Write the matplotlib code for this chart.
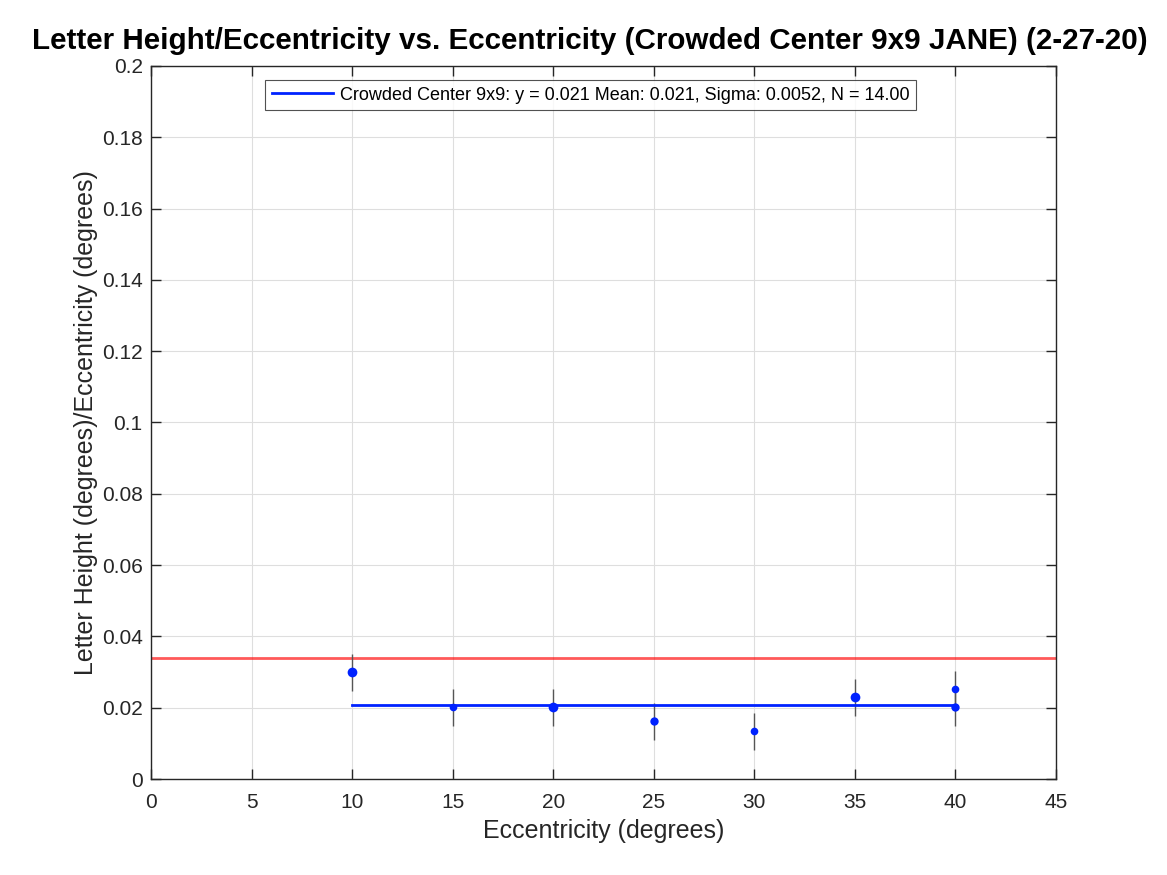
import numpy as np
import matplotlib
matplotlib.use("Agg")
import matplotlib.pyplot as plt

plt.rcParams["font.family"] = ["Liberation Sans", "DejaVu Sans"]

# data
ecc = [10, 15, 20, 25, 30, 35, 40, 40]
ratio = [0.0299, 0.0201, 0.0201, 0.0162, 0.0134, 0.0229, 0.0252, 0.0201]
marker_sizes = [7, 5.5, 7, 6, 5.5, 7, 5.5, 6]
sigma = 0.0052
mean_val = 0.0208
fit_x = [10, 40]
red_level = 0.0339
legend_label = "Crowded Center 9x9: y = 0.021 Mean: 0.021, Sigma: 0.0052, N = 14.00"
title = "Letter Height/Eccentricity vs. Eccentricity (Crowded Center 9x9 JANE) (2-27-20)"

AX_COL = "#262626"

fig = plt.figure(figsize=(11.67, 8.75), dpi=100)
ax = fig.add_axes([0.1294, 0.1097, 0.7755, 0.8149])

ax.axhline(red_level, color="red", alpha=0.65, lw=2, zorder=2)
ax.errorbar(ecc, ratio, yerr=sigma, fmt="none", ecolor="#555555", elinewidth=1, capsize=0, zorder=3)
for x, y, s in zip(ecc, ratio, marker_sizes):
    ax.plot(x, y, "o", color="#0022ff", ms=s, mec="none", zorder=4)
line, = ax.plot(fit_x, [mean_val, mean_val], color="#0022ff", lw=2, zorder=3, label=legend_label)

ax.set_xlim(0, 45)
ax.set_ylim(0, 0.2)
ax.set_xticks(np.arange(0, 46, 5))
ax.set_yticks(np.arange(0, 0.201, 0.02))
ax.set_yticklabels(["0", "0.02", "0.04", "0.06", "0.08", "0.1", "0.12", "0.14", "0.16", "0.18", "0.2"])
ax.grid(True, color="#dedede", lw=0.8)
ax.set_axisbelow(True)
ax.tick_params(direction="in", top=True, right=True, length=7, width=1, colors=AX_COL, labelsize=15)
ax.tick_params(axis="x", pad=10)
ax.tick_params(axis="y", pad=6)
for sp in ax.spines.values():
    sp.set_color(AX_COL)
    sp.set_linewidth(1)

ax.set_xlabel("Eccentricity (degrees)", fontsize=18, color=AX_COL, labelpad=5)
ax.set_ylabel("Letter Height (degrees)/Eccentricity (degrees)", fontsize=18, color=AX_COL, labelpad=3)
ax.set_title(title, fontsize=21.3, fontweight="bold", pad=12, x=0.485)

leg = ax.legend(handles=[line], loc="upper center", bbox_to_anchor=(0.486, 0.98), fontsize=13,
                frameon=True, fancybox=False, edgecolor=AX_COL, handlelength=3.4, handletextpad=0.4,
                borderpad=0.35, borderaxespad=0)
leg.get_frame().set_linewidth(0.8)

fig.savefig("out.png", dpi=100, facecolor="white")
